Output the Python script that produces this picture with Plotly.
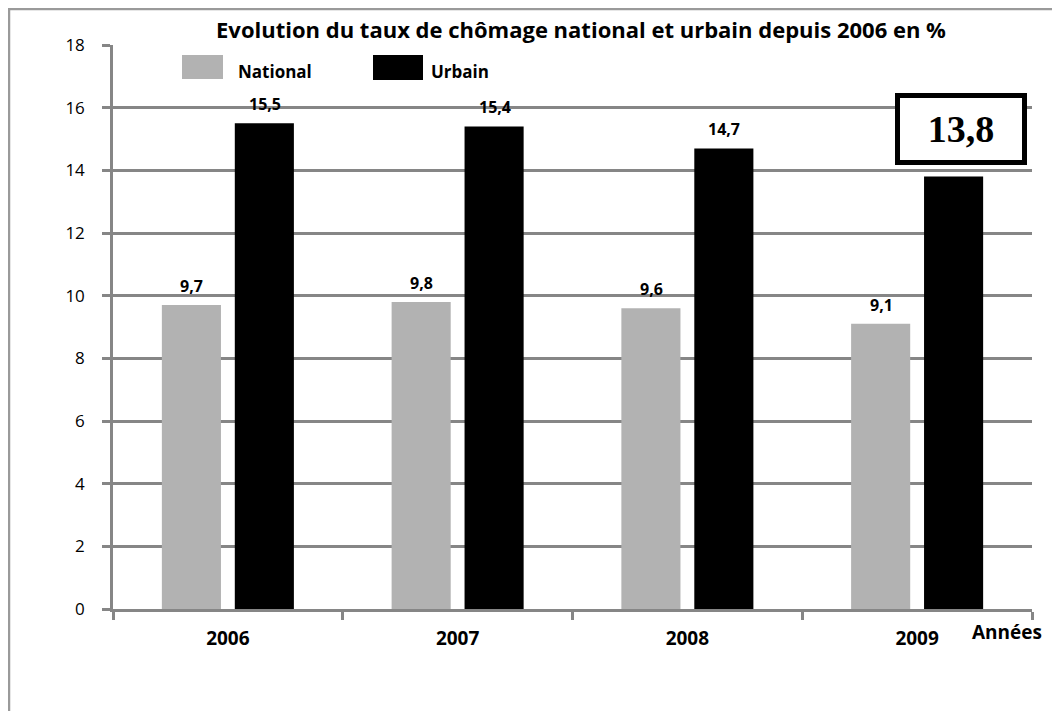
import plotly.graph_objects as go

years = ["2006", "2007", "2008", "2009"]
national = [9.7, 9.8, 9.6, 9.1]
urbain = [15.5, 15.4, 14.7, 13.8]
national_labels = ["9,7", "9,8", "9,6", "9,1"]
urbain_labels = ["15,5", "15,4", "14,7", ""]
highlight_label = "13,8"
y_ticks = [0, 2, 4, 6, 8, 10, 12, 14, 16, 18]

FONT = "Open Sans"
GRID = "#868686"
GREY_BAR = "#B2B2B2"

# page offset (browser body margin)
OFF = 8
W, H = 1060, 711
PW, PH = 919, 564
ML, MT = 113 - OFF, 45 - OFF
MR = W - ML - PW
MB = H - MT - PH


def px_x(p):
    return (p - OFF - ML) / PW


def px_y(p):
    return (MT + PH - (p - OFF)) / PH


fig = go.Figure()
fig.add_trace(go.Bar(x=years, y=national, name="National", marker=dict(color=GREY_BAR, line=dict(width=0)),
                     showlegend=False))
fig.add_trace(go.Bar(x=years, y=urbain, name="Urbain", marker=dict(color="#000000", line=dict(width=0)),
                     showlegend=False))

annotations = []
for i, (v, t) in enumerate(zip(national, national_labels)):
    annotations.append(dict(x=i, y=v, text=t, showarrow=False, xref="x", yref="y",
                            xshift=-36, yshift=6, yanchor="bottom",
                            font=dict(family=FONT, size=16, color="#000", weight="bold")))
for i, (v, t) in enumerate(zip(urbain, urbain_labels)):
    if t:
        annotations.append(dict(x=i, y=v, text=t, showarrow=False, xref="x", yref="y",
                                xshift=37, yshift=6, yanchor="bottom",
                                font=dict(family=FONT, size=16, color="#000", weight="bold")))

# Highlighted boxed value for 2009 urban
annotations.append(dict(x=len(years) - 1, y=urbain[-1], text="<b>" + highlight_label + "</b>", showarrow=False,
                        xref="x", yref="y", xshift=44, yshift=12, yanchor="bottom",
                        width=122, height=62, bgcolor="white", bordercolor="#000", borderwidth=5,
                        borderpad=0,
                        font=dict(family="Liberation Serif", size=38, color="#000")))

# Legend texts
annotations.append(dict(x=px_x(236), y=px_y(71), xref="paper", yref="paper", text="National",
                        showarrow=False, xanchor="left", yanchor="middle",
                        font=dict(family=FONT, size=17, color="#000", weight="bold")))
annotations.append(dict(x=px_x(429), y=px_y(71), xref="paper", yref="paper", text="Urbain",
                        showarrow=False, xanchor="left", yanchor="middle",
                        font=dict(family=FONT, size=17, color="#000", weight="bold")))
# Axis title
annotations.append(dict(x=px_x(1007), y=px_y(632), xref="paper", yref="paper", text="Années",
                        showarrow=False, xanchor="center", yanchor="middle",
                        font=dict(family=FONT, size=19, color="#000", weight="bold")))

shapes = [
    # outer frame
    dict(type="rect", xref="paper", yref="paper", x0=px_x(9), x1=px_x(1080), y0=px_y(730), y1=px_y(9),
         line=dict(color="#9A9A9A", width=2.5), fillcolor="rgba(0,0,0,0)", layer="below"),
    # legend swatches
    dict(type="rect", xref="paper", yref="paper", x0=px_x(182), x1=px_x(223), y0=px_y(79), y1=px_y(55),
         line=dict(width=0), fillcolor=GREY_BAR),
    dict(type="rect", xref="paper", yref="paper", x0=px_x(373), x1=px_x(423), y0=px_y(80), y1=px_y(55),
         line=dict(width=0), fillcolor="#000000"),
]

fig.update_layout(
    width=W, height=H,
    margin=dict(l=ML, r=MR, t=MT, b=MB, pad=0),
    paper_bgcolor="white", plot_bgcolor="white",
    barmode="group", bargap=0.365, bargroupgap=0.19,
    title=dict(text="Evolution du taux de chômage national et urbain depuis 2006 en %",
               x=px_x(581), xanchor="center", xref="paper", y=1 - (30 - OFF) / H, yanchor="middle",
               font=dict(family=FONT, size=22, color="#000", weight="bold")),
    xaxis=dict(type="category", range=[-0.5, len(years) - 0.5], autorange=False,
               showline=True, linecolor=GRID, linewidth=2.5, ticks="outside",
               tickson="boundaries", ticklen=8, tickwidth=2.5, tickcolor=GRID, showgrid=False,
               tickfont=dict(family=FONT, size=19, color="#000", weight="bold"), ticklabelstandoff=10),
    yaxis=dict(range=[0, 18], autorange=False, tickvals=y_ticks, showline=True, linecolor=GRID, linewidth=2.5,
               ticks="outside", ticklen=8, tickwidth=2.5, tickcolor=GRID, showgrid=True,
               gridcolor=GRID, gridwidth=2.5, zeroline=False,
               tickfont=dict(family=FONT, size=17, color="#000"), ticklabelstandoff=14),
    annotations=annotations,
    shapes=shapes,
    showlegend=False,
)

fig.write_html("out.html")
